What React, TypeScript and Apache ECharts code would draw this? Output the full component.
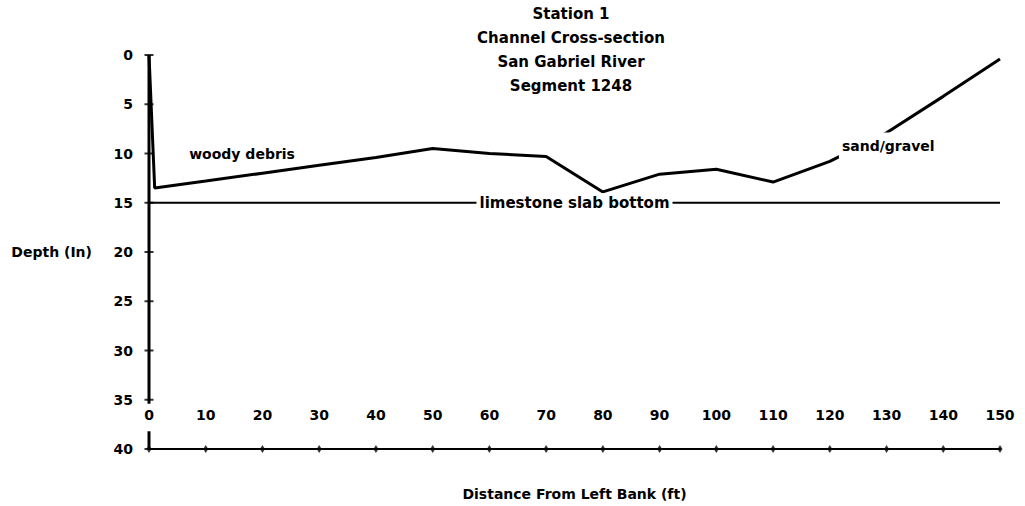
import React, { useEffect, useRef } from "react";
import * as echarts from "echarts";

// ---- data ----
const distance = [0, 1, 10, 20, 30, 40, 50, 60, 70, 80, 90, 100, 110, 120, 130, 140, 150];
const depth = [0, 13.5, 12.8, 12.0, 11.2, 10.4, 9.5, 10.0, 10.3, 13.9, 12.1, 11.6, 12.9, 10.8, 7.9, 4.2, 0.4];
const xTicks = [0, 10, 20, 30, 40, 50, 60, 70, 80, 90, 100, 110, 120, 130, 140, 150];
const yTicks = [0, 5, 10, 15, 20, 25, 30, 35, 40];
const slabDepth = 15;
const titleLines = ["Station 1", "Channel Cross-section", "San Gabriel River", "Segment 1248"];
const annotationTexts = ["woody debris", "sand/gravel", "limestone slab bottom"];
const annotationX = [16.4, 130.3, 75];
const annotationY = [10.0, 9.2, 15];
const yAxisSegments = [
  [0, 35.4],
  [38.2, 40],
];

const FONT = "DejaVu Sans";

export default function App() {
  const ref = useRef<HTMLDivElement>(null);
  useEffect(() => {
    if (!ref.current) return;
    const chart = echarts.init(ref.current, undefined, { renderer: "svg" });
    const textBase = { color: "#000", fontFamily: FONT, fontWeight: "bold" as const };
    const option: any = {
      animation: false,
      backgroundColor: "#fff",
      title: {
        text: titleLines.join("\n"),
        left: 566,
        top: -3,
        textAlign: "center",
        textStyle: { ...textBase, fontSize: 15, lineHeight: 24 },
      },
      grid: { left: 149, right: 25, top: 55, bottom: 56 },
      xAxis: {
        type: "value",
        min: 0,
        max: 150,
        interval: 10,
        axisLine: { show: true, onZero: false, lineStyle: { color: "#000", width: 2 } },
        axisTick: { show: false },
        splitLine: { show: false },
        axisLabel: { ...textBase, fontSize: 14, inside: true, margin: 27 },
        name: "Distance From Left Bank (ft)",
        nameLocation: "middle",
        nameGap: 38,
        nameTextStyle: { ...textBase, fontSize: 14 },
      },
      yAxis: {
        type: "value",
        inverse: true,
        min: 0,
        max: 40,
        interval: 5,
        axisLine: { show: false },
        axisTick: { show: false },
        splitLine: { show: false },
        axisLabel: { ...textBase, fontSize: 14, margin: 16 },
        name: "Depth (In)",
        nameLocation: "middle",
        nameRotate: 0,
        nameGap: 57,
        nameTextStyle: { ...textBase, fontSize: 14 },
      },
      series: [
        ...yAxisSegments.map((seg) => ({
          type: "line",
          data: seg.map((v) => [0, v]),
          symbol: "none",
          clip: false,
          silent: true,
          lineStyle: { color: "#000", width: 3 },
          z: 4,
        })),
        {
          type: "line",
          data: [
            [0, slabDepth],
            [150, slabDepth],
          ],
          symbol: "none",
          silent: true,
          lineStyle: { color: "#000", width: 2 },
          z: 2,
        },
        {
          type: "line",
          data: distance.map((d, i) => [d, depth[i]]),
          symbol: "none",
          clip: false,
          lineStyle: { color: "#000", width: 3 },
          z: 3,
          markPoint: {
            z: 10,
            symbol: "circle",
            symbolSize: 1,
            itemStyle: { color: "rgba(0,0,0,0)" },
            silent: true,
            label: {
              show: true,
              position: "inside",
              ...textBase,
              fontSize: 14,
              backgroundColor: "#fff",
              padding: [6, 3],
              formatter: (p: any) => p.name,
            },
            data: annotationTexts.map((t, i) => ({
              name: t,
              coord: [annotationX[i], annotationY[i]],
              label:
                i === 2
                  ? { padding: [2, 3], fontSize: 15 }
                  : i === 0
                  ? { backgroundColor: "transparent" }
                  : {},
            })),
          },
        },
        {
          type: "scatter",
          data: yTicks.map((v) => [0, v]),
          symbol: "rect",
          symbolSize: [9, 2],
          clip: false,
          silent: true,
          itemStyle: { color: "#000" },
          z: 5,
        },
        {
          type: "scatter",
          data: xTicks.map((v) => [v, 40]),
          symbol: "diamond",
          symbolSize: [5, 8],
          clip: false,
          silent: true,
          itemStyle: { color: "#000" },
          z: 5,
        },
      ],
    };
    chart.setOption(option);
    return () => chart.dispose();
  }, []);
  return (
    <div
      ref={ref}
      style={{ position: "fixed", left: 0, top: 0, width: 1025, height: 506, background: "#fff" }}
    />
  );
}
